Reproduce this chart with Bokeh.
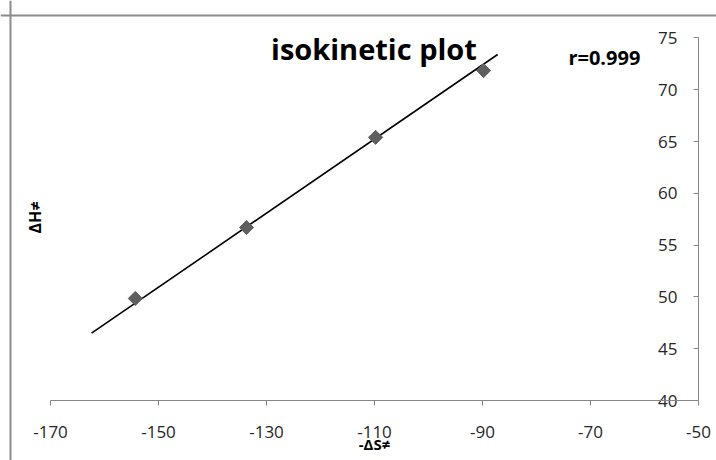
import math
from bokeh.plotting import figure
from bokeh.models import LinearAxis, FixedTicker, Range1d, Label, Span, Grid
from bokeh.core.properties import value
from bokeh.embed import file_html
from bokeh.resources import INLINE

# data
neg_dS = [-154.3, -133.7, -109.8, -89.8]
dH = [49.85, 56.7, 65.4, 71.85]
trend_x = [-162.4, -87.2]
trend_y = [46.5, 73.4]
x_ticks = [-170, -150, -130, -110, -90, -70, -50]
y_ticks = [40, 45, 50, 55, 60, 65, 70, 75]
x_tick_labels = ["-170", "-150", "-130", "-110", "-90", "-70", "-50"]
y_tick_labels = ["40", "45", "50", "55", "60", "65", "70", "75"]
title_text = "isokinetic plot"
r_text = "r=0.999"
x_label = "-ΔS≠"
y_label = "ΔH≠"

FONT = "Open Sans"
AXIS_COLOR = "#868686"
TEXT_COLOR = "#262626"
BORDER_COLOR = "#8c8c8c"

# the chart area fills the whole canvas; axes sit at fixed locations inside it
p = figure(width=716, height=460,
           x_range=Range1d(-179.26, -46.67), y_range=Range1d(34.21, 78.61),
           output_backend="svg", toolbar_location=None,
           x_axis_location=None, y_axis_location=None, min_border=0)
p.outline_line_color = None
p.background_fill_color = "white"
p.border_fill_color = "white"
for r in list(p.center):
    if isinstance(r, Grid):
        r.visible = False

# chart-area border (top and left edges visible in the reference)
p.add_layout(Span(location=-177.41, dimension="height", line_color=BORDER_COLOR, line_width=2))
p.add_layout(Span(location=77.16, dimension="width", line_color=BORDER_COLOR, line_width=2))

xaxis = LinearAxis(ticker=FixedTicker(ticks=x_ticks), fixed_location=40,
                   bounds=(x_ticks[0], x_ticks[-1]),
                   major_label_overrides={t: s for t, s in zip(x_ticks, x_tick_labels)})
xaxis.axis_line_color = AXIS_COLOR
xaxis.major_tick_line_color = AXIS_COLOR
xaxis.major_tick_in = 0
xaxis.major_tick_out = 5
xaxis.minor_tick_line_color = None
xaxis.major_label_standoff = 20
xaxis.major_label_text_font = FONT
xaxis.major_label_text_font_size = "17px"
xaxis.major_label_text_color = TEXT_COLOR
xaxis.axis_label = x_label
xaxis.axis_label_text_font = FONT
xaxis.axis_label_text_font_style = "bold"
xaxis.axis_label_text_font_size = "15px"
xaxis.axis_label_text_color = "black"
xaxis.axis_label_standoff = -7
p.add_layout(xaxis, "below")

# y axis at x=-50; its labels sit on the inner (left) side of the axis line
yaxis = LinearAxis(ticker=FixedTicker(ticks=y_ticks), fixed_location=-50,
                   bounds=(y_ticks[0], y_ticks[-1]))
yaxis.axis_line_color = AXIS_COLOR
yaxis.major_tick_line_color = AXIS_COLOR
yaxis.major_tick_in = 5
yaxis.major_tick_out = 0
yaxis.minor_tick_line_color = None
yaxis.major_label_text_color = None
p.add_layout(yaxis, "right")
p.text(x=[x_ticks[-1]] * len(y_ticks), y=y_ticks, text=y_tick_labels,
       x_offset=-21, text_align="right", text_baseline="middle",
       text_font=value(FONT), text_font_size="17px", text_color=TEXT_COLOR)

p.line(trend_x, trend_y, line_color="black", line_width=1.6)
p.scatter(neg_dS, dH, marker="square", angle=math.pi / 4, size=10,
          fill_color="#5f5f5f", line_color="#5f5f5f")

p.add_layout(Label(x=-110.1, y=73.96, text=title_text, text_align="center",
                   text_baseline="alphabetic", text_font=FONT,
                   text_font_style="bold", text_font_size="29px",
                   text_color="black"))
p.add_layout(Label(x=-74.1, y=73.11, text=r_text, text_align="left",
                   text_baseline="alphabetic", text_font=FONT,
                   text_font_style="bold", text_font_size="20px",
                   text_color="black"))
p.add_layout(Label(x=-172.78, y=57.65, text=y_label, angle=math.pi / 2,
                   text_align="center", text_baseline="middle",
                   text_font=FONT, text_font_style="bold",
                   text_font_size="16px", text_color="black"))

open("out.html", "w").write(file_html(p, INLINE))
